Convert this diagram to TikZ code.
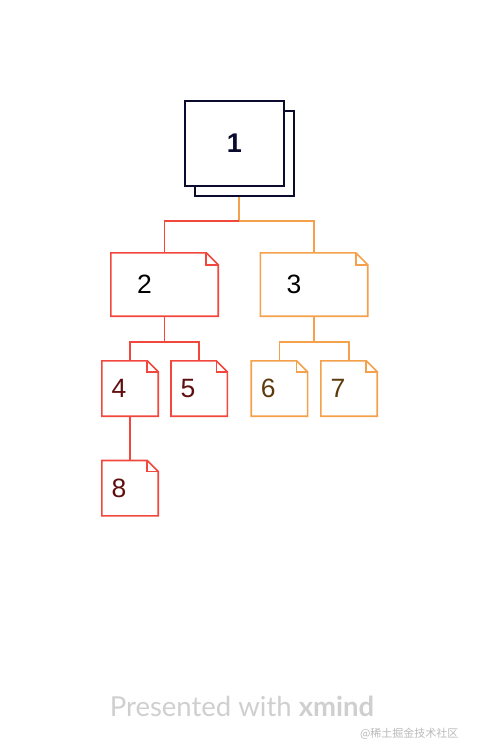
\documentclass[tikz,border=0pt]{standalone}
\usepackage{fontspec}
\setmainfont{Liberation Sans}
\newfontfamily\footfont{Lato}
\newfontfamily\cjk{Noto Sans CJK SC}
\usetikzlibrary{calc}
\definecolor{cnavy}{HTML}{0B0B2E}
\definecolor{cred}{HTML}{F2473D}
\definecolor{corange}{HTML}{F5A04B}
\definecolor{tred}{HTML}{5E0E0E}
\definecolor{tbrown}{HTML}{5E3A0B}
\definecolor{cgray}{HTML}{CFCFCF}
\tikzset{
  bignote/.style={draw=none, minimum height=63pt, text width=55pt, inner xsep=26pt, inner ysep=0pt, align=left, font=\fontsize{26.5}{26.5}\selectfont},
  smallnote/.style={draw=none, minimum height=55pt, text width=37pt, inner xsep=9.5pt, inner ysep=0pt, align=left, font=\fontsize{26.5}{26.5}\selectfont},
  rootbox/.style={draw=cnavy, fill=white, line width=1.6pt, minimum width=99pt, minimum height=85pt, inner sep=0pt},
  redline/.style={draw=cred, line width=1.6pt},
  orline/.style={draw=corange, line width=1.6pt},
}
\newcommand{\notefold}[3]{%
  \draw[#2, line join=miter] (#1.north west) -- ($(#1.north east)+(-#3,0)$) -- ($(#1.north east)+(0,#3)$) -- (#1.south east) -- (#1.south west) -- cycle;
  \draw[#2] ($(#1.north east)+(-#3,0)$) -- ($(#1.north east)+(-#3,#3)$) -- ($(#1.north east)+(0,#3)$);
}
\begin{document}
\begin{tikzpicture}[x=1pt, y=-1pt]
\useasboundingbox (0,0) rectangle (478,756);
% root
\node[rootbox] (n1b) at (244.5,153.5) {};
\node[rootbox, text=cnavy, font=\fontsize{27}{27}\selectfont\bfseries] (n1) at (234.5,143.5) {1};
% level 2
\node[bignote, text=black] (n2) at (164.5,284.5) {2};
\node[bignote, text=black] (n3) at (314,284.5) {3};
% level 3
\node[smallnote, text=tred] (n4) at (130,388.5) {4};
\node[smallnote, text=tred] (n5) at (199.2,388.5) {5};
\node[smallnote, text=tbrown] (n6) at (279.4,388.5) {6};
\node[smallnote, text=tbrown] (n7) at (349,388.5) {7};
\node[smallnote, text=tred] (n8) at (130,488.2) {8};
\notefold{n2}{redline}{12}
\notefold{n3}{orline}{12}
\notefold{n4}{redline}{11}
\notefold{n5}{redline}{11}
\notefold{n6}{orline}{11}
\notefold{n7}{orline}{11}
\notefold{n8}{redline}{11}
% connectors
\coordinate (r1) at (239,196.5);
\coordinate (j1) at (239,221);
\coordinate (j2) at (164.5,342);
\coordinate (j3) at (314,342);
\draw[orline] (r1) -- (j1) -| (n3.north);
\draw[redline] (j1) -| (n2.north);
\draw[redline] (n2.south) -- (j2) -| (n4.north);
\draw[redline] (j2) -| (n5.north);
\draw[orline] (n3.south) -- (j3) -| (n6.north);
\draw[orline] (j3) -| (n7.north);
\draw[redline] (n4.south) -- (n8.north);
% footer
\node[text=cgray, font=\footfont\fontsize{27.5}{27.5}\selectfont, anchor=base] (foot) at (242,716) {Presented with \textbf{xmind}};
\node[text=cgray!90!black, font=\cjk\fontsize{11}{11}\selectfont, anchor=east] (wm) at (462,734) {@稀土掘金技术社区};
\end{tikzpicture}
\end{document}
